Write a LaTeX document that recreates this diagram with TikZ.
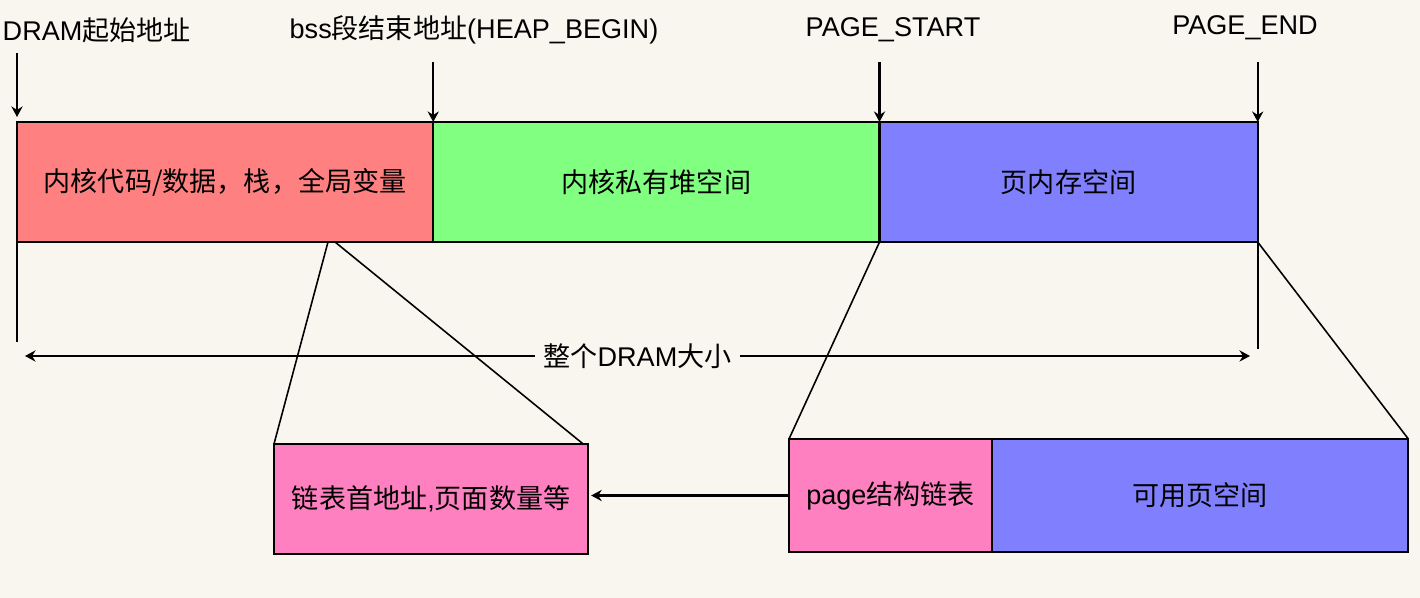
\documentclass[tikz,border=0pt]{standalone}
\usepackage{fontspec}
\setmainfont{Liberation Sans}
\newfontfamily\cjk{Noto Sans CJK SC}
\usetikzlibrary{arrows.meta, positioning}
\definecolor{pagebg}{HTML}{F9F6F0}
\definecolor{kernred}{HTML}{FF8080}
\definecolor{heapgreen}{HTML}{80FF80}
\definecolor{pageblue}{HTML}{8080FF}
\definecolor{listpink}{HTML}{FF80C0}
\newcommand{\zh}[1]{{\cjk #1}}
\tikzset{
  seg/.style={draw=black, line width=0.6pt, outer sep=0pt, inner sep=0pt, align=center,
    minimum height=1.2cm, font=\fontsize{7.7}{9}\selectfont, text=black},
  lbl/.style={font=\fontsize{7.7}{9}\selectfont, inner sep=0pt, text=black},
  ptr/.style={-{Stealth[length=3pt, width=3.2pt, inset=1pt]}, line width=0.6pt},
  span/.style={{Stealth[length=3pt, width=3.2pt, inset=1pt]}-{Stealth[length=3pt, width=3.2pt, inset=1pt]}, line width=0.6pt},
  zoomline/.style={line width=0.45pt}
}
\begin{document}
\begin{tikzpicture}[x=0.01cm, y=-0.01cm]
\fill[pagebg] (0,0) rectangle (1420,598);
% top memory bar
\node[seg, fill=kernred, minimum width=4.16cm, anchor=north west] (kern) at (17,122) {\zh{内核代码/数据，栈，全局变量}};
\node[seg, fill=heapgreen, minimum width=4.46cm, right=0pt of kern] (heap) {\zh{内核私有堆空间}};
\node[seg, fill=pageblue, minimum width=3.78cm, right=0pt of heap] (pagesp) {\zh{页内存空间}};
% address labels
\node[lbl, anchor=west] (lstart) at (2,30) {DRAM\zh{起始地址}};
\node[lbl] (lheap) at (474,30) {bss\zh{段结束地址}(HEAP\_BEGIN)};
\node[lbl] (lpst) at (893,30) {PAGE\_START};
\node[lbl] (lpend) at (1245,28) {PAGE\_END};
\coordinate (t0) at ([yshift=0.69cm]kern.north west);
\coordinate (t1) at ([yshift=0.6cm]heap.north west);
\coordinate (t2) at ([yshift=0.6cm]pagesp.north west);
\coordinate (t3) at ([yshift=0.6cm]pagesp.north east);
\draw[ptr, shorten >=0.05cm] (t0) -- (kern.north west);
\draw[ptr] (t1) -- (heap.north west);
\draw[ptr] (t2) -- (pagesp.north west);
\draw[ptr] (t3) -- (pagesp.north east);
% whole DRAM size
\draw[zoomline] (kern.south west) -- ++(0,100);
\draw[zoomline] (pagesp.south east) -- ++(0,107);
\coordinate (dl) at (25,356);
\coordinate (dr) at (1250,356);
\draw[span] (dl) -- node[lbl, fill=pagebg, inner xsep=0.08cm, inner ysep=0.02cm] (size) {\zh{整个}DRAM\zh{大小}} (dr);
% lower boxes
\node[seg, fill=listpink, minimum width=3.14cm, minimum height=1.1cm, anchor=north west] (head) at (274,444) {\zh{链表首地址},\zh{页面数量等}};
\node[seg, fill=listpink, minimum width=2.03cm, minimum height=1.13cm, anchor=north west] (plist) at (789,439) {page\zh{结构链表}};
\node[seg, fill=pageblue, minimum width=4.16cm, minimum height=1.13cm, right=0pt of plist] (freepg) {\zh{可用页空间}};
% zoom lines
\coordinate (k1) at (328,242);
\coordinate (k2) at (335,242);
\draw[zoomline] (k1) -- (head.north west);
\draw[zoomline] (k2) -- ([xshift=-0.05cm]head.north east);
\draw[zoomline] (heap.south east) -- (plist.north west);
\draw[zoomline] (pagesp.south east) -- (freepg.north east);
\draw[ptr, shorten >=0.03cm] (plist.west) -- (plist.west -| head.east);
\end{tikzpicture}
\end{document}
